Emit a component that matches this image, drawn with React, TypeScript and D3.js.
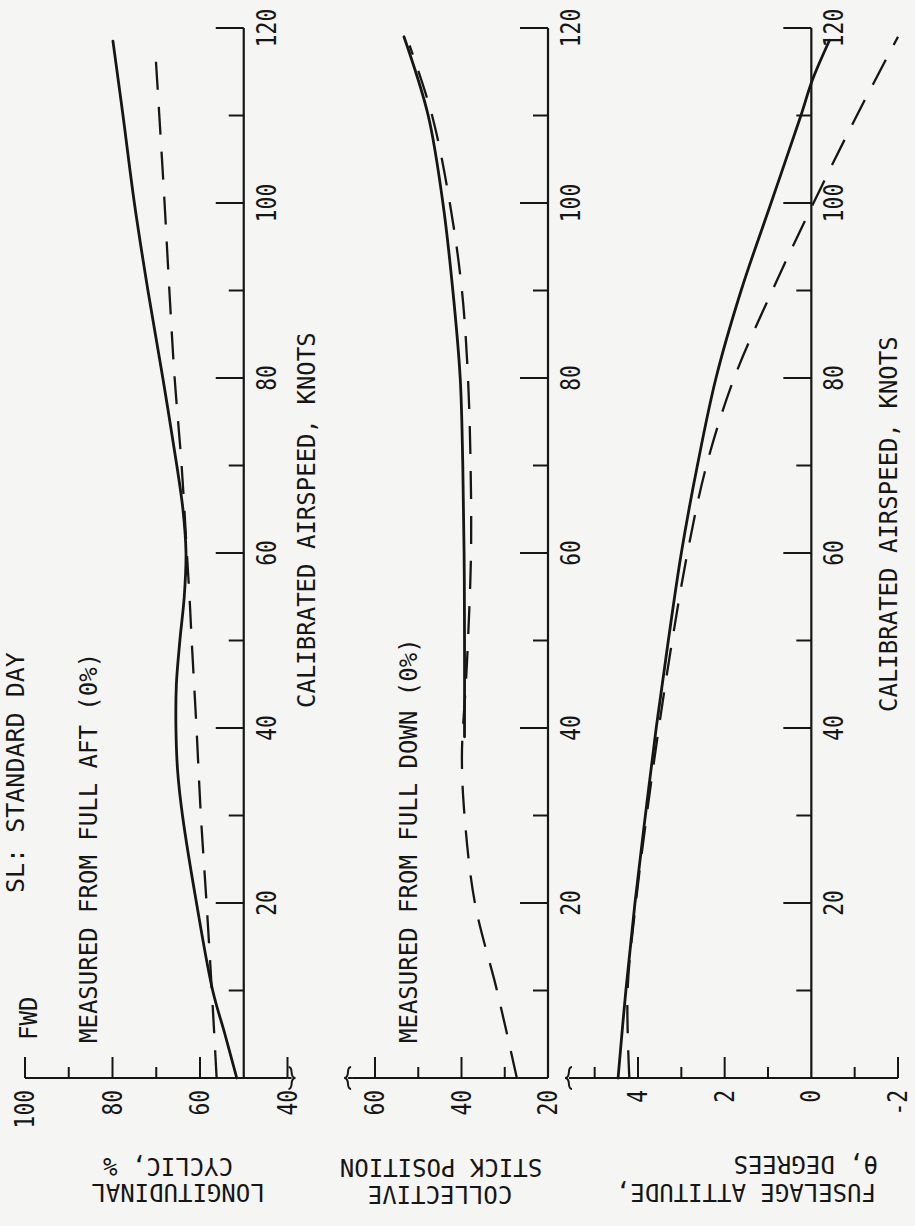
import React from "react";
import * as d3 from "d3";

// ---------- DATA ----------
const SPEED_MAJOR = [0, 20, 40, 60, 80, 100, 120];
const SPEED_MINOR = [10, 30, 50, 70, 90, 110];
const SPEED_LABELS = ["20", "40", "60", "80", "100", "120"];
const SPEED_LABEL_VALUES = [20, 40, 60, 80, 100, 120];

// [airspeed (knots), value]
const cyclicSolid: [number, number][] = [
  [0, 51.6], [5, 54.3], [10, 57.1], [20, 60.8], [30, 64.0], [35, 65.1], [40, 65.5],
  [45, 65.4], [50, 64.6], [55, 63.6], [60, 63.2], [65, 63.9], [70, 65.3], [80, 68.5],
  [90, 71.9], [100, 75.0], [110, 77.6], [118.5, 79.9],
];
const cyclicDashed: [number, number][] = [
  [0, 56.2], [10, 57.3], [20, 58.5], [30, 59.8], [40, 60.8], [50, 61.9], [55, 62.4],
  [60, 63.0], [70, 64.2], [80, 65.8], [90, 67.0], [100, 68.1], [110, 69.3], [118, 70.3],
];
const collectiveSolid: [number, number][] = [
  [39, 39.3], [50, 39.3], [60, 39.4], [70, 39.7], [80, 40.3], [90, 42.0],
  [100, 44.3], [110, 47.7], [119, 53.3],
];
const collectiveDashed: [number, number][] = [
  [0, 27.2], [10, 31.8], [20, 36.9], [30, 39.3], [37, 39.9], [45, 39.0], [50, 38.5],
  [60, 37.8], [70, 37.9], [80, 38.5], [90, 39.9], [100, 42.7], [110, 46.8], [118, 52.0],
];
const attitudeSolid: [number, number][] = [
  [0, 4.46], [10, 4.28], [20, 4.07], [30, 3.83], [40, 3.58], [50, 3.3], [60, 3.0],
  [70, 2.63], [80, 2.2], [90, 1.62], [100, 0.93], [110, 0.24], [114, -0.02], [118.6, -0.42],
];
const attitudeDashed: [number, number][] = [
  [0, 4.2], [10, 4.24], [20, 4.05], [30, 3.8], [40, 3.52], [50, 3.21], [60, 2.86],
  [70, 2.42], [80, 1.78], [90, 0.9], [100, -0.05], [110, -1.05], [119, -2.0],
];

const cyclicMajor = [100, 80, 60, 40];
const cyclicMinor = [90, 70];
const cyclicLabels = ["100", "80", "60", "40"];
const collectiveMajor = [60, 40, 20];
const collectiveMinor = [50, 30];
const collectiveLabels = ["60", "40", "20"];
const attitudeMajor = [4, 2, 0, -2];
const attitudeMinor = [5, 3, 1, -1];
const attitudeLabels = ["4", "2", "0", "-2"];

// ---------- LAYOUT ----------
const W = 915;
const H = 1226;
const INK = "#161616";
const FONT = "'DejaVu Sans Mono', monospace";
const AXIS_Y = 1078;

const speedY = d3.scaleLinear().domain([0, 120]).range([1078, 28]);

type PanelCfg = {
  scale: d3.ScaleLinear<number, number>;
  baseValue: number;
  axisFrom: number;
  axisTo: number;
  breakAt: number;
  breakDir: number;
  major: number[];
  minor: number[];
  labels: string[];
  solid: [number, number][];
  dashed: [number, number][];
};

const panels: PanelCfg[] = [
  {
    scale: d3.scaleLinear().domain([40, 100]).range([287.5, 25]),
    baseValue: 50, axisFrom: 100, axisTo: 40, breakAt: 40, breakDir: 1,
    major: cyclicMajor, minor: cyclicMinor, labels: cyclicLabels,
    solid: cyclicSolid, dashed: cyclicDashed,
  },
  {
    scale: d3.scaleLinear().domain([20, 60]).range([548, 375]),
    baseValue: 20, axisFrom: 65.3, axisTo: 20, breakAt: 65.3, breakDir: -1,
    major: collectiveMajor, minor: collectiveMinor, labels: collectiveLabels,
    solid: collectiveSolid, dashed: collectiveDashed,
  },
  {
    scale: d3.scaleLinear().domain([-2, 4]).range([898, 638]),
    baseValue: 0, axisFrom: 5.5, axisTo: -2, breakAt: 5.5, breakDir: -1,
    major: attitudeMajor, minor: attitudeMinor, labels: attitudeLabels,
    solid: attitudeSolid, dashed: attitudeDashed,
  },
];

function RotText({ x, y, text, anchor = "start", size = 24, rot = -90, len }: any) {
  return (
    <text
      transform={`translate(${x},${y}) rotate(${rot})`}
      textAnchor={anchor}
      fontFamily={FONT}
      fontSize={size}
      fill={INK}
      textLength={len}
      lengthAdjust={len ? "spacingAndGlyphs" : undefined}
    >
      {text}
    </text>
  );
}

function Panel({ p }: { p: PanelCfg }) {
  const ax = p.scale(p.baseValue);
  const line = d3
    .line<[number, number]>()
    .x((d) => p.scale(d[1]))
    .y((d) => speedY(d[0]))
    .curve(d3.curveCatmullRom.alpha(0.5));
  const bx = p.scale(p.breakAt);
  const d = p.breakDir;
  const brace = `M ${bx} ${AXIS_Y} L ${bx + 4 * d} ${AXIS_Y} M ${bx + 1 * d} ${AXIS_Y - 11} C ${bx + 7 * d} ${AXIS_Y - 11} ${bx + 1 * d} ${AXIS_Y} ${bx + 8 * d} ${AXIS_Y} C ${bx + 1 * d} ${AXIS_Y} ${bx + 7 * d} ${AXIS_Y + 11} ${bx + 1 * d} ${AXIS_Y + 11}`;
  return (
    <g>
      <line x1={ax} y1={speedY(0)} x2={ax} y2={speedY(120)} stroke={INK} strokeWidth={2.2} />
      {SPEED_MAJOR.filter((s) => s > 0).map((s) => (
        <line key={"M" + s} x1={ax - 28} x2={ax} y1={speedY(s)} y2={speedY(s)} stroke={INK} strokeWidth={2} />
      ))}
      {SPEED_MINOR.map((s) => (
        <line key={"m" + s} x1={ax - 15} x2={ax} y1={speedY(s)} y2={speedY(s)} stroke={INK} strokeWidth={2} />
      ))}
      {SPEED_LABEL_VALUES.map((s, i) => (
        <RotText key={"l" + s} x={ax + 32} y={speedY(s)} text={SPEED_LABELS[i]} anchor="middle" size={26} len={SPEED_LABELS[i].length * 12.8} />
      ))}
      <line x1={p.scale(p.axisFrom)} x2={p.scale(p.axisTo)} y1={AXIS_Y} y2={AXIS_Y} stroke={INK} strokeWidth={2.2} />
      <path d={brace} fill="none" stroke={INK} strokeWidth={2} />
      {p.major.filter((v) => v !== p.baseValue).map((v) => (
        <line key={"V" + v} x1={p.scale(v)} x2={p.scale(v)} y1={AXIS_Y} y2={AXIS_Y - 21} stroke={INK} strokeWidth={2} />
      ))}
      {p.minor.map((v) => (
        <line key={"v" + v} x1={p.scale(v)} x2={p.scale(v)} y1={AXIS_Y} y2={AXIS_Y - 11} stroke={INK} strokeWidth={2} />
      ))}
      {p.major.map((v, i) => (
        <RotText key={"L" + v} x={p.scale(v) + 9} y={AXIS_Y + 12} text={p.labels[i]} anchor="end" size={26} len={p.labels[i].length * 12.8} />
      ))}
      <path d={line(p.solid) || ""} fill="none" stroke={INK} strokeWidth={2.8} strokeLinecap="round" />
      <path d={line(p.dashed) || ""} fill="none" stroke={INK} strokeWidth={2.3} strokeDasharray="28,17" />
    </g>
  );
}

export default function App() {
  return (
    <svg
      width={W}
      height={H}
      viewBox={`0 0 ${W} ${H}`}
      style={{ position: "absolute", left: 0, top: 0, display: "block", background: "#f5f5f3" }}
    >
      <rect x={0} y={0} width={W} height={H} fill="#f5f5f3" />
      {panels.map((p, i) => (
        <Panel key={i} p={p} />
      ))}
      <RotText x={24} y={893} text="SL: STANDARD DAY" size={25} />
      <RotText x={37} y={1040} text="FWD" />
      <RotText x={97} y={1043} text="MEASURED FROM FULL AFT (0%)" />
      <RotText x={315} y={708} text="CALIBRATED AIRSPEED, KNOTS" />
      <RotText x={417} y={1043} text="MEASURED FROM FULL DOWN (0%)" />
      <RotText x={897} y={712} text="CALIBRATED AIRSPEED, KNOTS" />
      <RotText x={168} y={1158} text="CYCLIC, %" anchor="middle" rot={180} />
      <RotText x={178} y={1184} text="LONGITUDINAL" anchor="middle" rot={180} />
      <RotText x={441} y={1159} text="STICK POSITION" anchor="middle" rot={180} />
      <RotText x={440} y={1186} text="COLLECTIVE" anchor="middle" rot={180} />
      <RotText x={878} y={1156} text="θ, DEGREES" anchor="start" rot={180} />
      <RotText x={876} y={1184} text="FUSELAGE ATTITUDE," anchor="start" rot={180} />
    </svg>
  );
}
